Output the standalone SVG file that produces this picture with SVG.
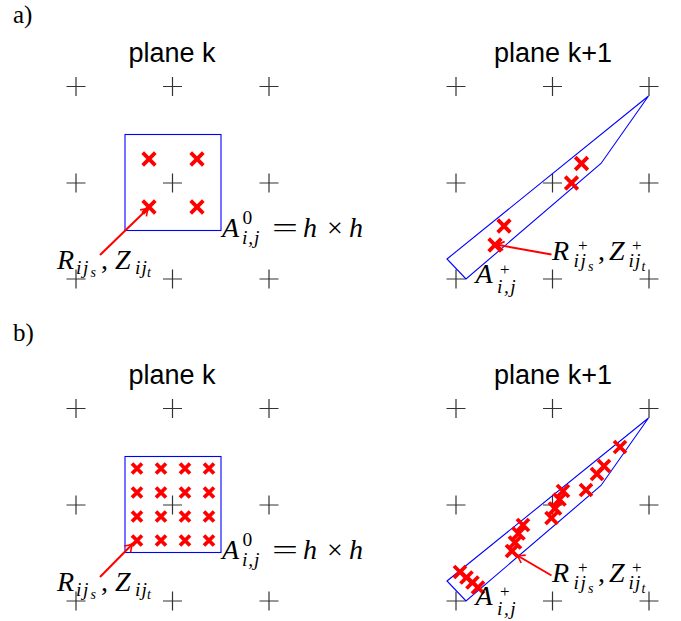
<svg xmlns="http://www.w3.org/2000/svg" xmlns:xlink="http://www.w3.org/1999/xlink" width="681" height="621" viewBox="0 0 681 621">
<style>
.grid{stroke:#333;stroke-width:1.2;fill:none}
.rx{stroke:#ff0000;stroke-width:3.8;fill:none}
.blue{stroke:#0000ff;stroke-width:1.1;fill:none}
.arrow{stroke:#ff0000;stroke-width:2;fill:none}
.sans{font-family:"Liberation Sans",Arial,sans-serif;font-size:27px;fill:#000}
.rm{font-family:"Liberation Serif","Times New Roman",serif;font-size:25px;fill:#000}
.m{font-family:"Liberation Serif","Times New Roman",serif;font-style:italic;font-size:28px;fill:#000}
.u{font-style:normal}
.s{font-size:19.5px}
.sp{font-size:17px}
.ss{font-size:14px}
</style>
<defs>
<path id="g" class="grid" d="M-9.5,0H9.5M0,-9.5V9.5"/>
<path id="xb" class="rx" d="M-6.3,-6.3L6.3,6.3M-6.3,6.3L6.3,-6.3"/>
<path id="xs" class="rx" d="M-5,-5L5,5M-5,5L5,-5"/>
<path id="xm" class="rx" d="M-6,-6L6,6M-6,6L6,-6"/>
<marker id="ah" markerUnits="userSpaceOnUse" viewBox="-10 -6 12 12" markerWidth="12" markerHeight="12" refX="0" refY="0" orient="auto" overflow="visible">
<path d="M-8,-4.5C-5,-2 -2,-0.7 0,0C-2,0.7 -5,2 -8,4.5" stroke="#ff0000" stroke-width="1.6" fill="none"/>
</marker>
</defs>

<g id="label-a"><text class="rm" x="13" y="23">a)</text></g>
<g id="label-b"><text class="rm" x="13" y="341">b)</text></g>

<g id="title-a-left"><text class="sans" x="172" y="62" text-anchor="middle">plane k</text></g>
<g id="title-a-right"><text class="sans" x="553" y="62" text-anchor="middle">plane k+1</text></g>
<g id="title-b-left"><text class="sans" x="172" y="384" text-anchor="middle">plane k</text></g>
<g id="title-b-right"><text class="sans" x="553" y="384" text-anchor="middle">plane k+1</text></g>

<g id="grid-a-left">
<use href="#g" x="76" y="86.5"/><use href="#g" x="172.5" y="86.5"/><use href="#g" x="269" y="86.5"/>
<use href="#g" x="76" y="183"/><use href="#g" x="172.5" y="183"/><use href="#g" x="269" y="183"/>
<use href="#g" x="76" y="279"/><use href="#g" x="172.5" y="279"/><use href="#g" x="269" y="279"/>
</g>
<g id="grid-a-right">
<use href="#g" x="456" y="86.5"/><use href="#g" x="552.5" y="86.5"/><use href="#g" x="649" y="86.5"/>
<use href="#g" x="456" y="183"/><use href="#g" x="552.5" y="183"/><use href="#g" x="649" y="183"/>
<use href="#g" x="456" y="279"/><use href="#g" x="552.5" y="279"/><use href="#g" x="649" y="279"/>
</g>
<g id="grid-b-left">
<use href="#g" x="76" y="408.5"/><use href="#g" x="172.5" y="408.5"/><use href="#g" x="269" y="408.5"/>
<use href="#g" x="76" y="505"/><use href="#g" x="172.5" y="505"/><use href="#g" x="269" y="505"/>
<use href="#g" x="76" y="601"/><use href="#g" x="172.5" y="601"/><use href="#g" x="269" y="601"/>
</g>
<g id="grid-b-right">
<use href="#g" x="456" y="408.5"/><use href="#g" x="552.5" y="408.5"/><use href="#g" x="649" y="408.5"/>
<use href="#g" x="456" y="505"/><use href="#g" x="552.5" y="505"/><use href="#g" x="649" y="505"/>
<use href="#g" x="456" y="601"/><use href="#g" x="552.5" y="601"/><use href="#g" x="649" y="601"/>
</g>

<g id="cell-a-left">
<rect class="blue" x="125" y="134.5" width="96" height="96"/>
<use href="#xb" x="149" y="159"/><use href="#xb" x="197" y="159"/>
<use href="#xb" x="149" y="207"/><use href="#xb" x="197" y="207"/>
</g>
<g id="cell-a-right">
<polygon class="blue" points="447,259 648.5,96 601,163.5 466,279"/>
<use href="#xb" x="581.5" y="163.5"/><use href="#xb" x="571.5" y="183"/>
<use href="#xb" x="504" y="226"/><use href="#xb" x="495" y="245"/>
</g>
<g id="cell-b-left">
<rect class="blue" x="125" y="456.5" width="96" height="96"/>
<use href="#xs" x="137" y="468.5"/><use href="#xs" x="161" y="468.5"/><use href="#xs" x="185" y="468.5"/><use href="#xs" x="209" y="468.5"/>
<use href="#xs" x="137" y="492.5"/><use href="#xs" x="161" y="492.5"/><use href="#xs" x="185" y="492.5"/><use href="#xs" x="209" y="492.5"/>
<use href="#xs" x="137" y="516.5"/><use href="#xs" x="161" y="516.5"/><use href="#xs" x="185" y="516.5"/><use href="#xs" x="209" y="516.5"/>
<use href="#xs" x="137" y="540.5"/><use href="#xs" x="161" y="540.5"/><use href="#xs" x="185" y="540.5"/><use href="#xs" x="209" y="540.5"/>
</g>
<g id="cell-b-right">
<polygon class="blue" points="447,581 648.5,418 601,485.5 466,601"/>
<use href="#xm" x="460" y="572"/><use href="#xm" x="466.5" y="577.5"/><use href="#xm" x="472.5" y="582.5"/><use href="#xm" x="478" y="587.5"/>
<use href="#xm" x="523" y="525"/><use href="#xm" x="518.5" y="533.5"/><use href="#xm" x="515" y="542.5"/><use href="#xm" x="512" y="551"/>
<use href="#xm" x="563" y="491"/><use href="#xm" x="559.5" y="499.5"/><use href="#xm" x="555" y="508.5"/><use href="#xm" x="551.5" y="518"/>
<use href="#xm" x="620" y="447"/><use href="#xm" x="604" y="466"/><use href="#xm" x="597" y="474"/><use href="#xm" x="586" y="490"/>
</g>

<g id="connectors">
<line class="arrow" x1="100" y1="255" x2="149" y2="207.5" marker-end="url(#ah)"/>
<line class="arrow" x1="551.5" y1="254.5" x2="496" y2="244.5" marker-end="url(#ah)"/>
<line class="arrow" x1="100" y1="577" x2="133" y2="543.5" marker-end="url(#ah)"/>
<line class="arrow" x1="551.5" y1="575.5" x2="516.5" y2="555" marker-end="url(#ah)"/>
</g>

<g id="label-R-a-left">
<text class="m"><tspan x="57" y="269">R</tspan><tspan class="s" x="76" y="273.5" letter-spacing="1.5">ij</tspan><tspan class="ss" x="90.5" y="276.5">s</tspan><tspan class="u" x="101" y="269">,</tspan><tspan x="115" y="269">Z</tspan><tspan class="s" x="135" y="273.5" letter-spacing="1">ij</tspan><tspan class="ss" x="147" y="276.5">t</tspan></text>
</g>
<g id="label-A-a-left">
<text class="m"><tspan x="222" y="237">A</tspan><tspan class="s u" x="242.5" y="224">0</tspan><tspan class="s" x="242" y="243.5" letter-spacing="0.8">i,j</tspan><tspan class="u" x="272" y="237" textLength="26" lengthAdjust="spacingAndGlyphs">=</tspan><tspan x="303" y="237">h</tspan><tspan class="u" x="327" y="237">×</tspan><tspan x="349" y="237">h</tspan></text>
</g>
<g id="label-R-a-right">
<text class="m"><tspan x="552" y="260">R</tspan><tspan class="sp u" x="578" y="251">+</tspan><tspan class="s" x="573.5" y="267" letter-spacing="1.5">ij</tspan><tspan class="ss" x="588" y="270.5">s</tspan><tspan class="u" x="598" y="260">,</tspan><tspan x="609" y="260">Z</tspan><tspan class="sp u" x="632" y="251">+</tspan><tspan class="s" x="628.5" y="267" letter-spacing="1">ij</tspan><tspan class="ss" x="641.5" y="270.5">t</tspan></text>
</g>
<g id="label-A-a-right">
<text class="m"><tspan x="475.5" y="283">A</tspan><tspan class="sp u" x="500" y="275">+</tspan><tspan class="s" x="497" y="293" letter-spacing="1.5">i,j</tspan></text>
</g>

<g id="label-R-b-left">
<text class="m"><tspan x="57" y="591">R</tspan><tspan class="s" x="76" y="595.5" letter-spacing="1.5">ij</tspan><tspan class="ss" x="90.5" y="598.5">s</tspan><tspan class="u" x="101" y="591">,</tspan><tspan x="115" y="591">Z</tspan><tspan class="s" x="135" y="595.5" letter-spacing="1">ij</tspan><tspan class="ss" x="147" y="598.5">t</tspan></text>
</g>
<g id="label-A-b-left">
<text class="m"><tspan x="222" y="559">A</tspan><tspan class="s u" x="242.5" y="546">0</tspan><tspan class="s" x="242" y="565.5" letter-spacing="0.8">i,j</tspan><tspan class="u" x="272" y="559" textLength="26" lengthAdjust="spacingAndGlyphs">=</tspan><tspan x="303" y="559">h</tspan><tspan class="u" x="327" y="559">×</tspan><tspan x="349" y="559">h</tspan></text>
</g>
<g id="label-R-b-right">
<text class="m"><tspan x="552" y="582">R</tspan><tspan class="sp u" x="578" y="573">+</tspan><tspan class="s" x="573.5" y="589" letter-spacing="1.5">ij</tspan><tspan class="ss" x="588" y="592.5">s</tspan><tspan class="u" x="598" y="582">,</tspan><tspan x="609" y="582">Z</tspan><tspan class="sp u" x="632" y="573">+</tspan><tspan class="s" x="628.5" y="589" letter-spacing="1">ij</tspan><tspan class="ss" x="641.5" y="592.5">t</tspan></text>
</g>
<g id="label-A-b-right">
<text class="m"><tspan x="475.5" y="605">A</tspan><tspan class="sp u" x="500" y="597">+</tspan><tspan class="s" x="497" y="615" letter-spacing="1.5">i,j</tspan></text>
</g>
</svg>
